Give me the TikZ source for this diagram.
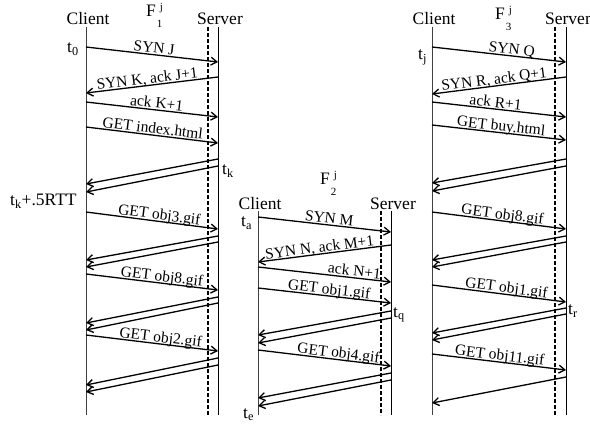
\documentclass[tikz,border=0pt]{standalone}
\usepackage{fontspec}
\setmainfont{Liberation Serif}
\usetikzlibrary{arrows.meta}
\newcommand{\flowname}[1]{F\rlap{\hspace{4pt}\raisebox{6pt}{\fontsize{11}{11}\selectfont j}}\hspace{1pt}\raisebox{-11pt}{\fontsize{11}{11}\selectfont #1}}

\begin{document}
\begin{tikzpicture}[
        x=1pt, y=-1pt,
        msg/.style={-{Straight Barb[length=6pt,width=8pt]}, line width=1.3pt},
        clientline/.style={line width=0.9pt, black!75},
        serverline/.style={line width=0.9pt},
        proxyline/.style={line width=1.2pt, dash pattern=on 4pt off 2pt},
        head/.style={anchor=base, inner sep=0pt, font=\fontsize{17.5}{20}\selectfont},
        tmark/.style={anchor=base west, inner sep=0pt, font=\fontsize{17.5}{20}\selectfont},
        lbl/.style={above, sloped, inner sep=1.2pt, text depth=0pt, font=\fontsize{15.5}{18}\selectfont}
    ]
        \useasboundingbox (0,0) rectangle (590,425);

        % flow 1
        \coordinate (C1) at (86,27);
        \coordinate (P1) at (208,27);
        \coordinate (S1) at (218,27);
        \node[head] (client1) at (88,25) {Client};
        \node[head] (server1) at (220,25) {Server};
        \node[head, anchor=base west] (flow1) at (146,17) {\flowname{1}};
        \draw[clientline] (C1) -- (C1 |- 0,415);
        \draw[serverline] (S1) -- (S1 |- 0,415);
        \draw[proxyline] (P1) -- (P1 |- 0,415);

        \draw[msg] (C1 |- 0,47) -- node[lbl, pos=0.51] {SYN J} (S1 |- 0,62);
        \draw[msg] (S1 |- 0,77) -- node[lbl, pos=0.53] {SYN K, ack J+1} (C1 |- 0,93);
        \draw[msg] (C1 |- 0,102) -- node[lbl, pos=0.53] {ack K+1} (S1 |- 0,117);
        \draw[msg] (C1 |- 0,127) -- node[lbl, pos=0.5] {GET index.html} (S1 |- 0,143);
        \draw[msg] (S1 |- 0,159) -- (C1 |- 0,184);
        \draw[msg] (S1 |- 0,166) -- (C1 |- 0,192);
        \draw[msg] (C1 |- 0,212) -- node[lbl, pos=0.55] {GET obj3.gif} (S1 |- 0,229);
        \draw[msg] (S1 |- 0,236) -- (C1 |- 0,260);
        \draw[msg] (S1 |- 0,242) -- (C1 |- 0,267);
        \draw[msg] (C1 |- 0,274) -- node[lbl, pos=0.57] {GET obj8.gif} (S1 |- 0,290);
        \draw[msg] (S1 |- 0,297) -- (C1 |- 0,323);
        \draw[msg] (S1 |- 0,303) -- (C1 |- 0,330);
        \draw[msg] (C1 |- 0,335) -- node[lbl, pos=0.56] {GET obj2.gif} (S1 |- 0,351);
        \draw[msg] (S1 |- 0,358) -- (C1 |- 0,385);
        \draw[msg] (S1 |- 0,365) -- (C1 |- 0,392);

        \node[tmark] (t0) at (67,53) {t\textsubscript{0}};
        \node[tmark] (tk) at (222,175) {t\textsubscript{k}};
        \node[tmark] (tkrtt) at (10,206) {t\textsubscript{k}+.5RTT};

        % flow 2
        \coordinate (C2) at (258,211);
        \coordinate (P2) at (381,211);
        \coordinate (S2) at (391,211);
        \node[head] (client2) at (260,210) {Client};
        \node[head] (server2) at (393,210) {Server};
        \node[head, anchor=base west] (flow2) at (320,185) {\flowname{2}};
        \draw[clientline] (C2) -- (C2 |- 0,415);
        \draw[serverline] (S2) -- (S2 |- 0,415);
        \draw[proxyline] (P2) -- (P2 |- 0,415);

        \draw[msg] (C2 |- 0,217) -- node[lbl, pos=0.53] {SYN M} (S2 |- 0,232);
        \draw[msg] (S2 |- 0,245) -- node[lbl, pos=0.53] {SYN N, ack M+1} (C2 |- 0,262);
        \draw[msg] (C2 |- 0,267) -- node[lbl, pos=0.72] {ack N+1} (S2 |- 0,282);
        \draw[msg] (C2 |- 0,288) -- node[lbl, pos=0.53] {GET obj1.gif} (S2 |- 0,303);
        \draw[msg] (S2 |- 0,311) -- (C2 |- 0,335);
        \draw[msg] (S2 |- 0,318) -- (C2 |- 0,343);
        \draw[msg] (C2 |- 0,350) -- node[lbl, pos=0.6] {GET obj4.gif} (S2 |- 0,366);
        \draw[msg] (S2 |- 0,373) -- (C2 |- 0,398);
        \draw[msg] (S2 |- 0,380) -- (C2 |- 0,406);

        \node[tmark] (ta) at (241,227) {t\textsubscript{a}};
        \node[tmark] (tq) at (393,317) {t\textsubscript{q}};
        \node[tmark] (te) at (243,418) {t\textsubscript{e}};

        % flow 3
        \coordinate (C3) at (432,27);
        \coordinate (P3) at (555,27);
        \coordinate (S3) at (566,27);
        \node[head] (client3) at (434,25) {Client};
        \node[head] (server3) at (568,25) {Server};
        \node[head, anchor=base west] (flow3) at (495,20) {\flowname{3}};
        \draw[clientline] (C3) -- (C3 |- 0,415);
        \draw[serverline] (S3) -- (S3 |- 0,415);
        \draw[proxyline] (P3) -- (P3 |- 0,415);

        \draw[msg] (C3 |- 0,47) -- node[lbl, pos=0.59] {SYN Q} (S3 |- 0,62);
        \draw[msg] (S3 |- 0,77) -- node[lbl, pos=0.53] {SYN R, ack Q+1} (C3 |- 0,94);
        \draw[msg] (C3 |- 0,102) -- node[lbl, pos=0.47] {ack R+1} (S3 |- 0,117);
        \draw[msg] (C3 |- 0,125) -- node[lbl, pos=0.51] {GET buy.html} (S3 |- 0,140);
        \draw[msg] (S3 |- 0,159) -- (C3 |- 0,183);
        \draw[msg] (S3 |- 0,166) -- (C3 |- 0,191);
        \draw[msg] (C3 |- 0,212) -- node[lbl, pos=0.52] {GET obj8.gif} (S3 |- 0,229);
        \draw[msg] (S3 |- 0,236) -- (C3 |- 0,260);
        \draw[msg] (S3 |- 0,242) -- (C3 |- 0,267);
        \draw[msg] (C3 |- 0,285) -- node[lbl, pos=0.55] {GET obj1.gif} (S3 |- 0,302);
        \draw[msg] (S3 |- 0,308) -- (C3 |- 0,333);
        \draw[msg] (S3 |- 0,314) -- (C3 |- 0,340);
        \draw[msg] (C3 |- 0,354) -- node[lbl, pos=0.5] {GET obj11.gif} (S3 |- 0,370);
        \draw[msg] (S3 |- 0,377) -- (C3 |- 0,403);

        \node[tmark] (tj) at (418,60) {t\textsubscript{j}};
        \node[tmark] (tr) at (568,315) {t\textsubscript{r}};
    \end{tikzpicture}
\end{document}
